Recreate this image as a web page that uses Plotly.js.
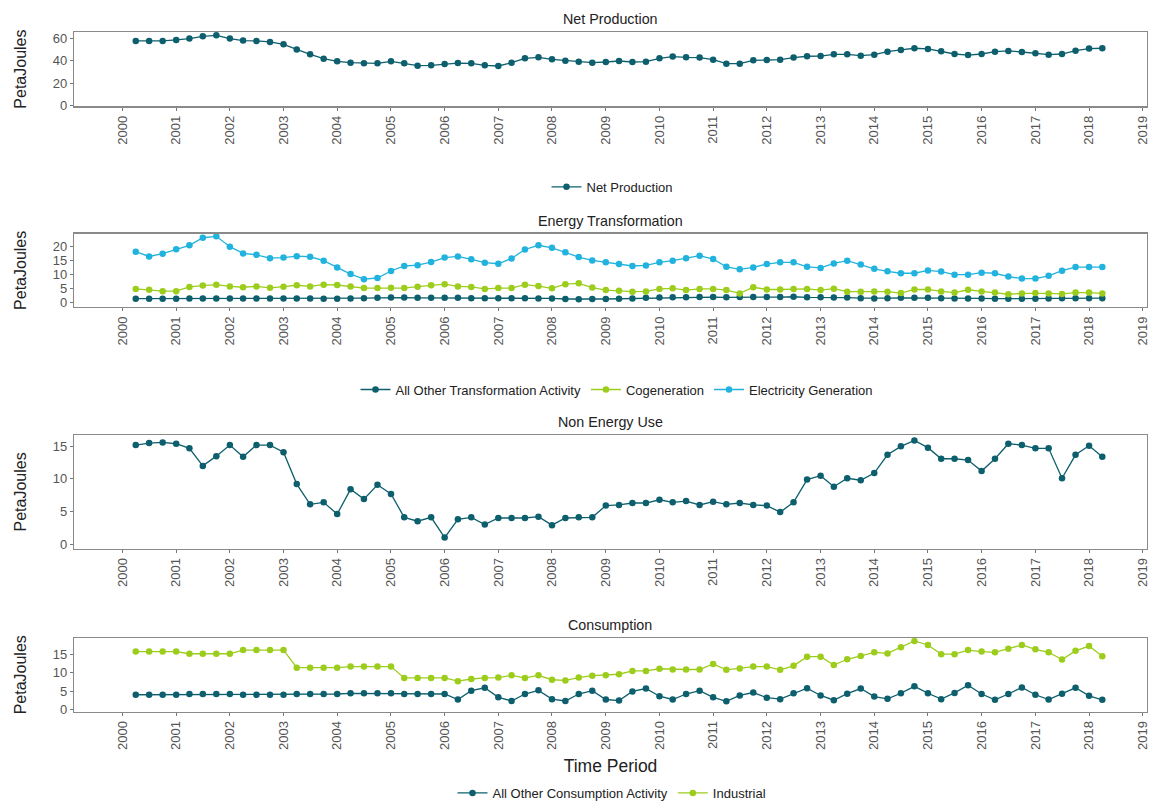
<!DOCTYPE html>
<html>
<head>
<meta charset="utf-8">
<script src="https://cdn.plot.ly/plotly-3.0.1.min.js"></script>
<style>
  html, body { margin: 0; padding: 0; background: #fff; }
  #chart { width: 1151px; height: 808px; }
</style>
</head>
<body>
<div id="chart"></div>
<script>
// Quarterly energy balance, PetaJoules, first quarter shown is April 2000
const firstYear = 2000;
const firstQuarter = 2; // Q2

const netProduction = [
  57.5, 57.5, 57.5, 58.4, 59.6, 61.6, 62.5, 59.6, 57.8, 57.5, 56.6, 54.5, 49.8, 45.6, 41.8, 39.4,
  38.2, 37.6, 37.6, 39.4, 37.6, 35.6, 35.9, 37.0, 37.9, 37.6, 35.9, 35.3, 38.2, 42.1, 43.0, 41.2,
  40.0, 39.1, 38.2, 38.8, 39.7, 38.8, 39.1, 42.1, 43.6, 43.0, 42.7, 40.9, 37.3, 37.3, 40.3, 40.6,
  40.9, 42.7, 43.9, 44.1, 45.6, 45.6, 44.4, 45.3, 48.0, 49.5, 51.0, 50.4, 48.3, 45.9, 45.0, 45.9,
  48.0, 48.6, 47.7, 46.5, 45.3, 45.9, 48.9, 50.7, 51.0
];

const otherTransformation = [
  1.3, 1.3, 1.3, 1.3, 1.4, 1.4, 1.4, 1.4, 1.4, 1.4, 1.4, 1.4, 1.4, 1.4, 1.3, 1.3,
  1.4, 1.5, 1.6, 1.7, 1.7, 1.6, 1.6, 1.6, 1.6, 1.5, 1.5, 1.5, 1.5, 1.5, 1.4, 1.4,
  1.2, 1.1, 1.2, 1.2, 1.3, 1.4, 1.6, 1.7, 1.8, 1.8, 1.9, 1.9, 1.8, 1.9, 1.9, 1.9,
  1.9, 2.0, 1.8, 1.8, 1.7, 1.7, 1.5, 1.4, 1.5, 1.6, 1.6, 1.6, 1.5, 1.4, 1.4, 1.4,
  1.3, 1.3, 1.3, 1.3, 1.4, 1.5, 1.5, 1.5, 1.5
];
const cogeneration = [
  4.8, 4.5, 4.0, 4.0, 5.5, 6.0, 6.3, 5.7, 5.4, 5.7, 5.2, 5.6, 6.1, 5.7, 6.3, 6.2,
  5.7, 5.1, 5.1, 5.2, 5.1, 5.6, 6.1, 6.5, 5.7, 5.5, 4.8, 5.1, 5.1, 6.3, 5.8, 5.0,
  6.5, 6.8, 5.3, 4.4, 4.1, 3.8, 3.9, 4.8, 5.0, 4.4, 4.8, 4.8, 4.4, 3.2, 5.4, 4.6,
  4.6, 4.8, 4.8, 4.4, 4.9, 3.8, 3.8, 3.9, 3.8, 3.3, 4.6, 4.6, 3.9, 3.5, 4.5, 3.9,
  3.5, 2.9, 3.2, 3.3, 3.2, 3.0, 3.5, 3.5, 3.2
];
const electricityGeneration = [
  18.1, 16.4, 17.4, 19.0, 20.4, 23.1, 23.6, 19.9, 17.5, 17.0, 15.8, 16.0, 16.5, 16.3, 14.9, 12.5,
  10.1, 8.3, 8.7, 11.2, 13.0, 13.3, 14.4, 16.0, 16.4, 15.4, 14.2, 13.8, 15.7, 18.9, 20.4, 19.5,
  17.9, 16.2, 15.0, 14.3, 13.7, 13.0, 13.2, 14.3, 14.9, 15.8, 16.7, 15.5, 12.7, 11.8, 12.5, 13.7,
  14.3, 14.3, 12.7, 12.3, 13.9, 14.9, 13.5, 12.0, 11.1, 10.4, 10.4, 11.4, 11.0, 9.9, 9.9, 10.6,
  10.4, 9.2, 8.5, 8.5, 9.5, 11.3, 12.6, 12.6, 12.6
];

const nonEnergyUse = [
  15.2, 15.5, 15.6, 15.4, 14.7, 12.0, 13.5, 15.2, 13.4, 15.2, 15.2, 14.1, 9.2, 6.1, 6.4, 4.6,
  8.4, 6.9, 9.1, 7.7, 4.1, 3.5, 4.1, 1.0, 3.8, 4.1, 3.0, 4.0, 4.0, 4.0, 4.2, 2.9,
  4.0, 4.1, 4.1, 5.9, 6.0, 6.3, 6.3, 6.8, 6.4, 6.6, 6.0, 6.5, 6.1, 6.3, 6.0, 5.9,
  4.9, 6.4, 9.9, 10.5, 8.8, 10.1, 9.8, 10.9, 13.7, 15.0, 15.9, 14.8, 13.1, 13.1, 12.9, 11.2,
  13.1, 15.4, 15.2, 14.7, 14.7, 10.1, 13.7, 15.1, 13.4
];

const otherConsumption = [
  4.0, 4.0, 4.0, 4.0, 4.2, 4.2, 4.2, 4.2, 4.0, 4.0, 4.0, 4.0, 4.2, 4.2, 4.2, 4.2,
  4.4, 4.4, 4.4, 4.4, 4.2, 4.2, 4.2, 4.2, 2.7, 5.1, 5.9, 3.3, 2.3, 4.2, 5.2, 2.8,
  2.3, 4.2, 5.1, 2.7, 2.4, 4.9, 5.7, 3.6, 2.7, 4.2, 5.1, 3.3, 2.2, 3.8, 4.6, 3.2,
  2.8, 4.4, 5.8, 3.8, 2.5, 4.3, 5.7, 3.5, 2.9, 4.4, 6.3, 4.4, 2.8, 4.5, 6.6, 4.2,
  2.6, 4.2, 6.0, 4.0, 2.7, 4.3, 5.9, 3.7, 2.6
];
const industrial = [
  15.8, 15.8, 15.8, 15.8, 15.2, 15.2, 15.2, 15.2, 16.2, 16.2, 16.2, 16.2, 11.4, 11.4, 11.4, 11.4,
  11.7, 11.7, 11.7, 11.7, 8.6, 8.6, 8.6, 8.6, 7.7, 8.3, 8.6, 8.7, 9.3, 8.6, 9.3, 8.1,
  7.9, 8.7, 9.2, 9.3, 9.6, 10.5, 10.5, 11.1, 10.9, 10.9, 10.9, 12.4, 10.8, 11.2, 11.7, 11.7,
  10.8, 11.9, 14.4, 14.4, 12.1, 13.7, 14.6, 15.6, 15.3, 17.0, 18.7, 17.6, 15.1, 15.1, 16.2, 15.8,
  15.6, 16.6, 17.6, 16.4, 15.6, 13.6, 16.0, 17.3, 14.5
];

const panelTitles = ['Net Production', 'Energy Transformation', 'Non Energy Use', 'Consumption'];
const yTicks = [[0, 20, 40, 60], [0, 5, 10, 15, 20], [0, 5, 10, 15], [0, 5, 10, 15]];
const yTitle = 'PetaJoules';
const xTitle = 'Time Period';

// quarter-start dates for each observation
function quarterDates(n) {
  const out = [];
  for (let i = 0; i < n; i++) {
    const q = firstQuarter - 1 + i;
    const y = firstYear + Math.floor(q / 4);
    const m = (q % 4) * 3 + 1;
    out.push(y + '-' + String(m).padStart(2, '0') + '-01');
  }
  return out;
}
const periods = quarterDates(netProduction.length);

const TEAL = '#0d5f6d';
const GREEN = '#9dcd1c';
const BLUE = '#21b3de';

function series(name, values, color, axisIdx, legend, showlegend) {
  const sfx = axisIdx === 1 ? '' : String(axisIdx);
  return {
    type: 'scatter', mode: 'lines+markers', name: name,
    x: periods, y: values,
    xaxis: 'x' + sfx, yaxis: 'y' + sfx,
    line: { color: color, width: 1.3 },
    marker: { color: color, size: 6.5 },
    legend: legend, showlegend: showlegend
  };
}

const traces = [
  series('Net Production', netProduction, TEAL, 1, 'legend', true),
  series('All Other Transformation Activity', otherTransformation, TEAL, 2, 'legend2', true),
  series('Cogeneration', cogeneration, GREEN, 2, 'legend2', true),
  series('Electricity Generation', electricityGeneration, BLUE, 2, 'legend2', true),
  series('Non Energy Use', nonEnergyUse, TEAL, 3, 'legend', false),
  series('All Other Consumption Activity', otherConsumption, TEAL, 4, 'legend3', true),
  series('Industrial', industrial, GREEN, 4, 'legend3', true)
];

const H = 808, W = 1151;
const boxes = [[32, 107], [235, 309], [438, 552], [642, 716]]; // top/bottom in px
const yRanges = [[-0.5, 65.6], [-1.7, 24.6], [-0.7, 16.7], [-0.6, 19.5]];
const xDomain = [74 / W, 1147 / W];
const xRange = ['1999-02-06', '2019-01-30'];

const FONT = 'Liberation Sans, Arial, sans-serif';
const tickFont = { family: FONT, size: 13, color: '#555' };
const legendFont = { family: FONT, size: 13, color: '#222' };

function legendAt(xc, ypx) {
  return {
    orientation: 'h', x: xc / W, xanchor: 'center', y: 1 - ypx / H, yanchor: 'middle',
    font: legendFont, itemwidth: 30, bgcolor: 'rgba(0,0,0,0)'
  };
}

const layout = {
  width: W, height: H,
  margin: { l: 0, r: 0, t: 0, b: 0 },
  paper_bgcolor: '#fff', plot_bgcolor: '#fff',
  font: { family: FONT, color: '#222' },
  annotations: [],
  legend: legendAt(612, 188),
  legend2: legendAt(617, 392),
  legend3: legendAt(612, 798)
};

for (let i = 0; i < 4; i++) {
  const sfx = i === 0 ? '' : String(i + 1);
  const [top, bot] = boxes[i];
  layout['xaxis' + sfx] = {
    type: 'date', domain: xDomain, range: xRange, anchor: 'y' + sfx,
    tick0: '2000-01-01', dtick: 'M12', tickformat: '%Y', tickangle: -90,
    ticks: 'outside', ticklen: 3, tickcolor: '#777', tickfont: tickFont,
    showgrid: false, zeroline: false,
    showline: true, mirror: true, linecolor: '#8a8a8a', linewidth: 1.2,
    fixedrange: true
  };
  layout['yaxis' + sfx] = {
    domain: [1 - bot / H, 1 - top / H], range: yRanges[i], anchor: 'x' + sfx,
    tickvals: yTicks[i], ticks: 'outside', ticklen: 3, tickcolor: '#777', tickfont: tickFont,
    showgrid: false, zeroline: false,
    showline: true, mirror: true, linecolor: '#8a8a8a', linewidth: 1.2,
    title: { text: yTitle, font: { family: FONT, size: 16, color: '#222' }, standoff: 22 },
    automargin: false, fixedrange: true
  };
  layout.annotations.push({
    text: panelTitles[i], xref: 'paper', yref: 'paper',
    x: 610 / W, y: 1 - (top - 13) / H, xanchor: 'center', yanchor: 'middle',
    showarrow: false, font: { family: FONT, size: 14.3, color: '#222' }
  });
}
layout.xaxis4.title = { text: xTitle, font: { family: FONT, size: 17.5, color: '#222' }, standoff: 10 };

Plotly.newPlot('chart', traces, layout, { displayModeBar: false, staticPlot: true });
</script>
</body>
</html>
